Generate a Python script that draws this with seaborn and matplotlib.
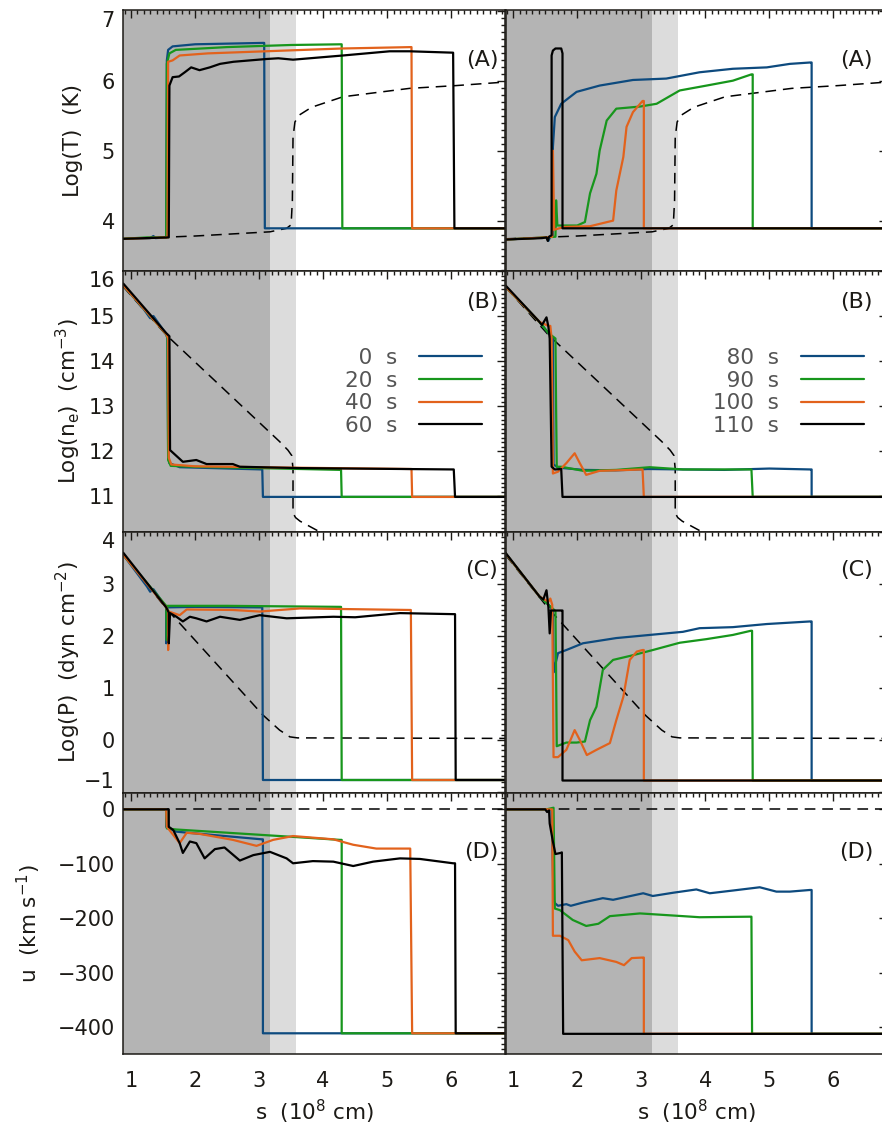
import numpy as np
import matplotlib
matplotlib.use("Agg")
import matplotlib.pyplot as plt
from matplotlib.ticker import AutoMinorLocator
import seaborn as sns

# ---- data: (s [1e8 cm], value) ----
XMIN, XMAX = 0.88, 6.84
CHROMO_END = 3.17   # dark shaded region
TR_END = 3.57       # light shaded region

left_times = ["\u20070  s", "20  s", "40  s", "60  s"]
right_times = ["\u200780  s", "\u200790  s", "100  s", "110  s"]

# Log(T)
T_dash = [(0.88, 3.75), (2.0, 3.79), (3.17, 3.85), (3.43, 3.90), (3.50, 3.95), (3.52, 4.3),
          (3.53, 5.2), (3.56, 5.42), (3.63, 5.52), (3.82, 5.63), (4.31, 5.78), (5.35, 5.90),
          (6.08, 5.94), (6.84, 5.99)]
T_0 = [(0.88, 3.75), (1.30, 3.76), (1.35, 3.79), (1.38, 3.76), (1.55, 3.77), (1.56, 6.3),
       (1.58, 6.45), (1.65, 6.50), (2.0, 6.53), (3.08, 6.55), (3.09, 3.9), (6.84, 3.9)]
T_20 = [(0.88, 3.75), (1.25, 3.77), (1.55, 3.77), (1.56, 6.25), (1.60, 6.40), (1.70, 6.45),
        (2.5, 6.49), (3.5, 6.52), (4.29, 6.53), (4.30, 3.9), (6.84, 3.9)]
T_40 = [(0.88, 3.75), (1.57, 3.77), (1.58, 6.28), (1.65, 6.30), (1.76, 6.37), (2.2, 6.40),
        (3.1, 6.43), (4.3, 6.47), (5.38, 6.49), (5.39, 3.9), (6.84, 3.9)]
T_60 = [(0.88, 3.75), (1.59, 3.77), (1.60, 5.94), (1.65, 6.06), (1.75, 6.07), (1.84, 6.13),
        (1.94, 6.20), (2.07, 6.16), (2.23, 6.20), (2.39, 6.25), (2.6, 6.28), (2.86, 6.30),
        (3.12, 6.32), (3.3, 6.33), (3.53, 6.31), (4.31, 6.37), (5.04, 6.43), (5.35, 6.43),
        (6.03, 6.41), (6.05, 3.9), (6.84, 3.9)]
T_80 = [(0.88, 3.74), (1.52, 3.77), (1.55, 3.72), (1.58, 3.78), (1.62, 3.8), (1.62, 5.06),
        (1.65, 5.49), (1.75, 5.68), (1.99, 5.85), (2.35, 5.94), (2.87, 6.02), (3.39, 6.04),
        (3.91, 6.13), (4.43, 6.18), (4.96, 6.20), (5.32, 6.25), (5.64, 6.27), (5.66, 6.27),
        (5.66, 3.9), (6.84, 3.9)]
T_90 = [(0.88, 3.74), (1.52, 3.77), (1.66, 3.78), (1.67, 4.3), (1.69, 3.94), (2.0, 3.94),
        (2.12, 3.99), (2.2, 4.4), (2.3, 4.68), (2.35, 5.01), (2.46, 5.44), (2.61, 5.61),
        (2.98, 5.64), (3.24, 5.68), (3.6, 5.87), (4.02, 5.94), (4.43, 6.01), (4.72, 6.10),
        (4.74, 6.10), (4.74, 3.9), (6.84, 3.9)]
T_100 = [(0.88, 3.74), (1.52, 3.77), (1.61, 3.78), (1.62, 5.01), (1.64, 3.88), (1.8, 3.92),
         (2.2, 3.93), (2.56, 4.01), (2.61, 4.44), (2.72, 4.92), (2.77, 5.35), (2.87, 5.56),
         (3.02, 5.72), (3.04, 5.72), (3.04, 3.9), (6.84, 3.9)]
T_110 = [(0.88, 3.74), (1.45, 3.76), (1.52, 3.77), (1.54, 3.72), (1.56, 3.78), (1.60, 3.8),
         (1.60, 6.37), (1.62, 6.44), (1.66, 6.47), (1.75, 6.47), (1.77, 6.40), (1.77, 3.9),
         (6.84, 3.9)]

# Log(n_e)
N_dash = [(0.88, 15.65), (1.55, 14.58), (3.32, 12.21), (3.45, 12.02), (3.51, 11.90),
          (3.53, 11.6), (3.53, 10.62), (3.57, 10.52), (3.64, 10.44), (3.9, 10.24),
          (4.05, 10.1), (6.84, 9.9)]
N_0 = [(0.88, 15.68), (1.2, 15.15), (1.3, 14.95), (1.35, 15.0), (1.55, 14.6), (1.57, 14.5),
       (1.58, 11.9), (1.60, 11.73), (1.76, 11.64), (3.05, 11.59), (3.06, 10.98), (6.84, 10.98)]
N_20 = [(0.88, 15.68), (1.55, 14.6), (1.57, 14.5), (1.58, 11.8), (1.62, 11.67), (2.0, 11.65),
        (3.0, 11.62), (4.28, 11.58), (4.29, 10.98), (6.84, 10.98)]
N_40 = [(0.88, 15.68), (1.55, 14.6), (1.58, 14.5), (1.59, 11.85), (1.63, 11.70), (2.0, 11.66),
        (3.5, 11.63), (5.38, 11.60), (5.39, 10.98), (6.84, 10.98)]
N_60 = [(0.88, 15.72), (1.55, 14.62), (1.60, 14.55), (1.61, 12.02), (1.81, 11.76), (2.02, 11.80),
        (2.18, 11.71), (2.59, 11.71), (2.7, 11.65), (3.64, 11.62), (6.04, 11.59), (6.06, 10.98),
        (6.84, 10.98)]
N_80 = [(0.88, 15.65), (1.41, 14.87), (1.55, 14.62), (1.62, 14.5), (1.63, 11.70), (1.7, 11.63),
        (2.1, 11.58), (2.6, 11.57), (3.1, 11.60), (3.65, 11.59), (4.3, 11.58), (5.0, 11.61),
        (5.64, 11.59), (5.66, 11.59), (5.66, 10.98), (6.84, 10.98)]
N_90 = [(0.88, 15.65), (1.41, 14.87), (1.55, 14.62), (1.66, 14.5), (1.67, 12.98), (1.68, 11.65),
        (1.75, 11.65), (2.09, 11.56), (2.61, 11.58), (3.13, 11.64), (3.65, 11.59), (4.72, 11.59),
        (4.74, 10.98), (6.84, 10.98)]
N_100 = [(0.88, 15.65), (1.41, 14.87), (1.55, 14.78), (1.58, 14.78), (1.60, 14.5), (1.62, 11.5),
         (1.7, 11.54), (1.83, 11.73), (1.96, 11.95), (2.04, 11.73), (2.14, 11.47), (2.35, 11.56),
         (2.61, 11.57), (3.02, 11.59), (3.04, 10.98), (6.84, 10.98)]
N_110 = [(0.88, 15.68), (1.41, 14.87), (1.45, 14.80), (1.52, 14.97), (1.55, 14.76), (1.57, 14.5),
         (1.60, 11.65), (1.65, 11.59), (1.75, 11.60), (1.77, 10.98), (6.84, 10.98)]

# Log(P)
P_dash = [(0.88, 3.56), (1.55, 2.53), (3.06, 0.48), (3.32, 0.19), (3.48, 0.06), (3.6, 0.04),
          (6.84, 0.03)]
P_0 = [(0.88, 3.56), (1.25, 2.95), (1.3, 2.85), (1.35, 2.90), (1.55, 2.55), (1.55, 1.86),
       (1.56, 2.55), (2.0, 2.56), (3.05, 2.55), (3.06, -0.77), (6.84, -0.77)]
P_20 = [(0.88, 3.56), (1.55, 2.58), (1.56, 1.92), (1.57, 2.58), (2.5, 2.58), (4.28, 2.56),
        (4.29, -0.77), (6.84, -0.77)]
P_40 = [(0.88, 3.56), (1.55, 2.55), (1.58, 2.47), (1.58, 1.73), (1.59, 2.47), (1.76, 2.40),
        (1.87, 2.51), (2.59, 2.50), (3.01, 2.47), (3.64, 2.53), (5.37, 2.50), (5.39, -0.77),
        (6.84, -0.77)]
P_60 = [(0.88, 3.60), (1.55, 2.55), (1.59, 2.45), (1.59, 1.86), (1.61, 2.44), (1.71, 2.37),
        (1.81, 2.28), (1.92, 2.37), (2.02, 2.34), (2.18, 2.28), (2.39, 2.37), (2.7, 2.31),
        (3.01, 2.40), (3.43, 2.34), (4.16, 2.37), (4.5, 2.36), (5.2, 2.44), (6.03, 2.42),
        (6.06, 2.42), (6.07, -0.77), (6.84, -0.77)]
P_80 = [(0.88, 3.59), (1.41, 2.76), (1.55, 2.60), (1.62, 2.50), (1.63, 1.30), (1.65, 1.41),
        (1.7, 1.67), (1.83, 1.73), (2.09, 1.86), (2.61, 1.96), (3.13, 2.02), (3.65, 2.08),
        (3.91, 2.15), (4.43, 2.17), (4.96, 2.23), (5.64, 2.28), (5.66, 2.28), (5.66, -0.78),
        (6.84, -0.78)]
P_90 = [(0.88, 3.59), (1.41, 2.76), (1.55, 2.60), (1.66, 2.48), (1.67, 1.28), (1.68, -0.12),
        (1.83, -0.05), (1.99, -0.05), (2.12, -0.03), (2.2, 0.38), (2.3, 0.64), (2.4, 1.35),
        (2.56, 1.54), (2.87, 1.63), (3.18, 1.73), (3.6, 1.87), (4.02, 1.94), (4.43, 2.02),
        (4.71, 2.10), (4.73, 2.10), (4.74, -0.78), (6.84, -0.78)]
P_100 = [(0.88, 3.59), (1.41, 2.76), (1.55, 2.66), (1.58, 2.72), (1.61, 2.60), (1.63, -0.33),
         (1.7, -0.33), (1.83, -0.19), (1.96, 0.19), (2.04, 0.0), (2.15, -0.29), (2.3, -0.19),
         (2.51, -0.06), (2.61, 0.38), (2.72, 0.83), (2.82, 1.54), (2.93, 1.70), (3.02, 1.73),
         (3.04, 1.73), (3.04, -0.78), (6.84, -0.78)]
P_110 = [(0.88, 3.60), (1.41, 2.76), (1.47, 2.70), (1.52, 2.88), (1.55, 2.55), (1.57, 2.05),
         (1.59, 2.49), (1.75, 2.49), (1.77, 2.49), (1.77, -0.78), (6.84, -0.78)]

# u (km/s)
U_dash = [(0.88, 0.0), (6.84, 0.0)]
U_0 = [(0.88, 0), (1.55, 0), (1.55, -32), (1.71, -41), (3.04, -55), (3.06, -55), (3.06, -411),
       (6.84, -411)]
U_20 = [(0.88, 0), (1.55, 0), (1.56, -35), (1.71, -37), (4.26, -56), (4.29, -56), (4.29, -411),
        (6.84, -411)]
U_40 = [(0.88, 0), (1.55, 0), (1.56, -32), (1.6, -38), (1.76, -62), (1.87, -43), (2.07, -45),
        (2.59, -56), (2.96, -67), (3.22, -56), (3.53, -49), (4.16, -55), (4.47, -65),
        (4.83, -72), (5.36, -72), (5.39, -411), (6.84, -411)]
U_60 = [(0.88, 0), (1.59, 0), (1.59, -32), (1.66, -38), (1.76, -62), (1.81, -80), (1.92, -59),
        (2.02, -62), (2.15, -90), (2.31, -73), (2.46, -70), (2.7, -94), (2.91, -84), (3.17, -78),
        (3.43, -90), (3.53, -99), (3.84, -95), (4.16, -96), (4.47, -104), (4.78, -96),
        (5.2, -90), (5.51, -91), (6.03, -99), (6.06, -99), (6.07, -411), (6.84, -411)]
U_80 = [(0.88, 0), (1.52, 0), (1.6, 0), (1.63, -165), (1.65, -172), (1.7, -177), (1.83, -174),
        (1.9, -177), (2.09, -171), (2.4, -163), (2.56, -166), (3.03, -154), (3.18, -159),
        (3.5, -153), (3.86, -147), (4.07, -154), (4.43, -149), (4.85, -143), (5.11, -151),
        (5.32, -151), (5.63, -148), (5.66, -148), (5.66, -412), (6.84, -412)]
U_90 = [(0.88, 0), (1.52, 0), (1.63, 3), (1.65, -182), (1.73, -185), (1.93, -203), (2.14, -214),
        (2.33, -210), (2.51, -196), (2.98, -191), (3.65, -196), (3.91, -198), (4.7, -197),
        (4.72, -197), (4.73, -412), (6.84, -412)]
U_100 = [(0.88, 0), (1.52, 0), (1.61, 0), (1.62, -232), (1.73, -232), (1.86, -240),
         (1.96, -261), (2.07, -277), (2.35, -273), (2.61, -280), (2.73, -286), (2.85, -273),
         (3.02, -272), (3.04, -272), (3.04, -412), (6.84, -412)]
U_110 = [(0.88, 0), (1.5, 0), (1.53, -5), (1.56, -2), (1.57, -26), (1.62, -59), (1.66, -82),
         (1.74, -80), (1.76, -79), (1.78, -412), (6.84, -412)]

colors = ["#0d4a7e", "#17961c", "#e2621c", "#000000"]

rows = [
    dict(dash=T_dash, left=[T_0, T_20, T_40, T_60], right=[T_80, T_90, T_100, T_110],
         ylim=(3.29, 7.02), ticks=[4, 5, 6, 7], label="Log(T)  (K)", labx=-0.105,
         tag="(A)", tagy=0.808),
    dict(dash=N_dash, left=[N_0, N_20, N_40, N_60], right=[N_80, N_90, N_100, N_110],
         ylim=(10.2, 16.0), ticks=[11, 12, 13, 14, 15, 16],
         label=r"Log(n$_{\rm e}$)  (cm$^{-3}$)", labx=-0.105, tag="(B)", tagy=0.882),
    dict(dash=P_dash, left=[P_0, P_20, P_40, P_60], right=[P_80, P_90, P_100, P_110],
         ylim=(-1.02, 4.0), ticks=[-1, 0, 1, 2, 3, 4],
         label=r"Log(P)  (dyn cm$^{-2}$)", labx=-0.105, tag="(C)", tagy=0.854),
    dict(dash=U_dash, left=[U_0, U_20, U_40, U_60], right=[U_80, U_90, U_100, U_110],
         ylim=(-449, 30), ticks=[-400, -300, -200, -100, 0],
         label=r"u  (km s$^{-1}$)", labx=-0.21, tag="(D)", tagy=0.775),
]

sns.set_style("white")
plt.rcParams["font.family"] = ["DejaVu Sans"]
plt.rcParams["mathtext.default"] = "regular"
plt.rcParams["font.size"] = 15
txt = "#1c1a16"

W, H = 882, 1126
fig = plt.figure(figsize=(W / 100, H / 100), dpi=100)
row_tops = [10, 271, 532, 793]
row_h = 261
col_left = [123.3, 505.5]
col_w = 381.7
tag_x = [0.982, 0.963]

for r, row in enumerate(rows):
    for c, side in enumerate(["left", "right"]):
        ax = fig.add_axes([col_left[c] / W, 1 - (row_tops[r] + row_h) / H, col_w / W, row_h / H])
        ax.axvspan(XMIN, CHROMO_END, color="#b4b4b4", lw=0, zorder=0)
        ax.axvspan(CHROMO_END, TR_END, color="#dcdcdc", lw=0, zorder=0)

        d = np.array(row["dash"])
        sns.lineplot(x=d[:, 0], y=d[:, 1], ax=ax, sort=False, estimator=None, color="black",
                     lw=1.1, legend=False, linestyle=(0, (7, 4.5)))
        handles = []
        names = left_times if c == 0 else right_times
        for k, ser in enumerate(row[side]):
            a = np.array(ser)
            sns.lineplot(x=a[:, 0], y=a[:, 1], ax=ax, sort=False, estimator=None,
                         color=colors[k], lw=1.6, legend=False)
            ln = ax.lines[-1]
            ln.set_label(names[k])
            handles.append(ln)

        ax.set_xlim(XMIN, XMAX)
        ax.set_ylim(*row["ylim"])
        ax.set_yticks(row["ticks"])
        ax.set_xticks([1, 2, 3, 4, 5, 6])
        ax.xaxis.set_minor_locator(AutoMinorLocator(10))
        ax.yaxis.set_minor_locator(AutoMinorLocator(10))
        ax.tick_params(which="both", direction="in", top=True, right=True, width=1,
                       colors=txt, labelcolor=txt)
        ax.tick_params(which="major", length=5.5)
        ax.tick_params(which="minor", length=2.6)
        ax.tick_params(axis="x", pad=12, labelsize=15)
        ax.tick_params(axis="y", pad=6, labelsize=15)
        for sp in ax.spines.values():
            sp.set_linewidth(1.1)
            sp.set_color(txt)
            sp.set_visible(True)

        if c == 0:
            ax.set_ylabel(row["label"], fontsize=15.5, color=txt)
            ax.yaxis.set_label_coords(row["labx"], 0.5)
            lo, hi = row["ylim"]
            for tk, v in zip(ax.yaxis.get_major_ticks(), row["ticks"]):
                if hi - v < 0.03 * (hi - lo):
                    tk.label1.set_va("top")
                elif v - lo < 0.03 * (hi - lo):
                    tk.label1.set_va("bottom")
        else:
            ax.set_yticklabels([])
            ax.set_ylabel("")

        if r == 3:
            ax.set_xlabel(r"s  (10$^8$ cm)", fontsize=15.5, color=txt, labelpad=5)
        else:
            ax.set_xticklabels([])
            ax.set_xlabel("")

        ax.text(tag_x[c], row["tagy"], row["tag"], transform=ax.transAxes, ha="right",
                va="center", fontsize=16, color=txt)

        if r == 1:
            leg = ax.legend(handles=handles, loc="upper right", bbox_to_anchor=(0.94, 0.705),
                            frameon=False, markerfirst=False, borderpad=0, borderaxespad=0,
                            handlelength=2.95, handletextpad=1.0, labelspacing=0.12,
                            fontsize=15.5)
            for t in leg.get_texts():
                t.set_color("#555555")

fig.savefig("out.png", dpi=100)
